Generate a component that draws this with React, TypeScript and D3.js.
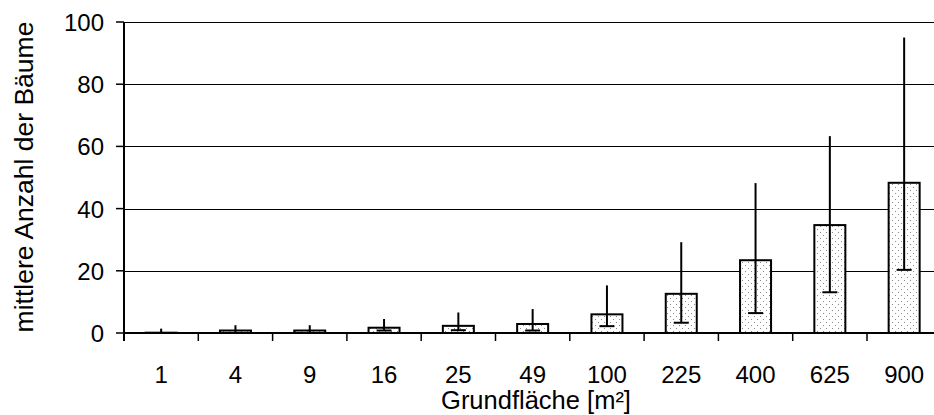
import { useEffect, useRef } from "react";
import * as d3 from "d3";

// Grundfläche categories [m²]
const categories = ["1", "4", "9", "16", "25", "49", "100", "225", "400", "625", "900"];
// mean number of trees
const means = [0.1, 0.8, 0.8, 1.7, 2.3, 2.9, 6.0, 12.6, 23.4, 34.7, 48.3];
// error bar upper and lower ends
const upper = [1.4, 2.5, 2.5, 4.5, 6.6, 7.7, 15.3, 29.2, 48.2, 63.3, 95.0];
const lower = [0, 0, 0, 0.8, 0.9, 0.8, 2.2, 3.3, 6.4, 13.1, 20.3];
const yTicks = [0, 20, 40, 60, 80, 100];

function App() {
  const ref = useRef<SVGSVGElement>(null);

  useEffect(() => {
    const width = 934;
    const margin = { left: 124, top: 22, bottom: 333 };
    const step = 74.3;
    const font = "Liberation Sans, Arial, sans-serif";

    const svg = d3.select(ref.current);
    svg.selectAll("*").remove();

    const x = d3
      .scaleBand<string>()
      .domain(categories)
      .range([margin.left, margin.left + step * categories.length])
      .padding(0);
    const y = d3.scaleLinear().domain([0, 100]).range([margin.bottom, margin.top]);
    const barW = 31;
    const capW = 15;

    // dotted fill for the bars
    const pat = svg
      .append("defs")
      .append("pattern")
      .attr("id", "dots")
      .attr("width", 6)
      .attr("height", 6)
      .attr("patternUnits", "userSpaceOnUse");
    pat.append("rect").attr("width", 6).attr("height", 6).attr("fill", "#fff");
    pat.append("rect").attr("x", 1).attr("y", 1).attr("width", 1).attr("height", 1).attr("fill", "#888");
    pat.append("rect").attr("x", 4).attr("y", 4).attr("width", 1).attr("height", 1).attr("fill", "#888");

    // gridlines
    svg
      .selectAll("line.grid")
      .data(yTicks.filter((d) => d > 0))
      .enter()
      .append("line")
      .attr("class", "grid")
      .attr("x1", margin.left)
      .attr("x2", width)
      .attr("y1", (d) => Math.round(y(d)) + 0.5)
      .attr("y2", (d) => Math.round(y(d)) + 0.5)
      .attr("stroke", "#000")
      .attr("stroke-width", 1);

    // bars
    svg
      .selectAll("rect.bar")
      .data(categories)
      .enter()
      .append("rect")
      .attr("class", "bar")
      .attr("x", (d) => x(d)! + x.bandwidth() / 2 - barW / 2)
      .attr("y", (d, i) => y(means[i]))
      .attr("width", barW)
      .attr("height", (d, i) => y(0) - y(means[i]))
      .attr("fill", "url(#dots)")
      .attr("stroke", "#000")
      .attr("stroke-width", 2);

    // error bars: vertical line + lower cap
    svg
      .selectAll("line.err")
      .data(categories)
      .enter()
      .append("line")
      .attr("class", "err")
      .attr("x1", (d) => x(d)! + x.bandwidth() / 2)
      .attr("x2", (d) => x(d)! + x.bandwidth() / 2)
      .attr("y1", (d, i) => y(upper[i]))
      .attr("y2", (d, i) => y(lower[i]))
      .attr("stroke", "#000")
      .attr("stroke-width", 2);

    svg
      .selectAll("line.cap")
      .data(categories)
      .enter()
      .append("line")
      .attr("class", "cap")
      .attr("x1", (d) => x(d)! + x.bandwidth() / 2 - capW / 2)
      .attr("x2", (d) => x(d)! + x.bandwidth() / 2 + capW / 2)
      .attr("y1", (d, i) => y(lower[i]))
      .attr("y2", (d, i) => y(lower[i]))
      .attr("stroke", "#000")
      .attr("stroke-width", 2);

    // y axis
    svg
      .append("line")
      .attr("x1", margin.left)
      .attr("x2", margin.left)
      .attr("y1", margin.top)
      .attr("y2", margin.bottom + 8)
      .attr("stroke", "#000")
      .attr("stroke-width", 2);
    svg
      .selectAll("line.ytick")
      .data(yTicks)
      .enter()
      .append("line")
      .attr("class", "ytick")
      .attr("x1", margin.left - 8)
      .attr("x2", margin.left)
      .attr("y1", (d) => y(d))
      .attr("y2", (d) => y(d))
      .attr("stroke", "#000")
      .attr("stroke-width", 1.5);
    svg
      .selectAll("text.ylab")
      .data(yTicks)
      .enter()
      .append("text")
      .attr("class", "ylab")
      .attr("x", 104)
      .attr("y", (d) => y(d) + 9)
      .attr("text-anchor", "end")
      .attr("font-family", font)
      .attr("font-size", "24px")
      .text((d) => d);

    // x axis
    svg
      .append("line")
      .attr("x1", margin.left)
      .attr("x2", width)
      .attr("y1", margin.bottom)
      .attr("y2", margin.bottom)
      .attr("stroke", "#000")
      .attr("stroke-width", 2);
    svg
      .selectAll("line.xtick")
      .data(categories.slice(1))
      .enter()
      .append("line")
      .attr("class", "xtick")
      .attr("x1", (d) => x(d)!)
      .attr("x2", (d) => x(d)!)
      .attr("y1", margin.bottom)
      .attr("y2", margin.bottom + 8)
      .attr("stroke", "#000")
      .attr("stroke-width", 1.5);
    svg
      .selectAll("text.xlab")
      .data(categories)
      .enter()
      .append("text")
      .attr("class", "xlab")
      .attr("x", (d) => x(d)! + x.bandwidth() / 2)
      .attr("y", 383)
      .attr("text-anchor", "middle")
      .attr("font-family", font)
      .attr("font-size", "24px")
      .text((d) => d);

    // axis titles
    svg
      .append("text")
      .attr("x", 536)
      .attr("y", 409)
      .attr("text-anchor", "middle")
      .attr("font-family", font)
      .attr("font-size", "25.5px")
      .text("Grundfläche [m²]");
    svg
      .append("text")
      .attr("transform", "translate(33,177) rotate(-90)")
      .attr("text-anchor", "middle")
      .attr("font-family", font)
      .attr("font-size", "26.5px")
      .text("mittlere Anzahl der Bäume");
  }, []);

  return (
    <svg
      ref={ref}
      width={934}
      height={415}
      style={{ position: "absolute", left: 0, top: 0, background: "#fff" }}
    />
  );
}

export default App;
